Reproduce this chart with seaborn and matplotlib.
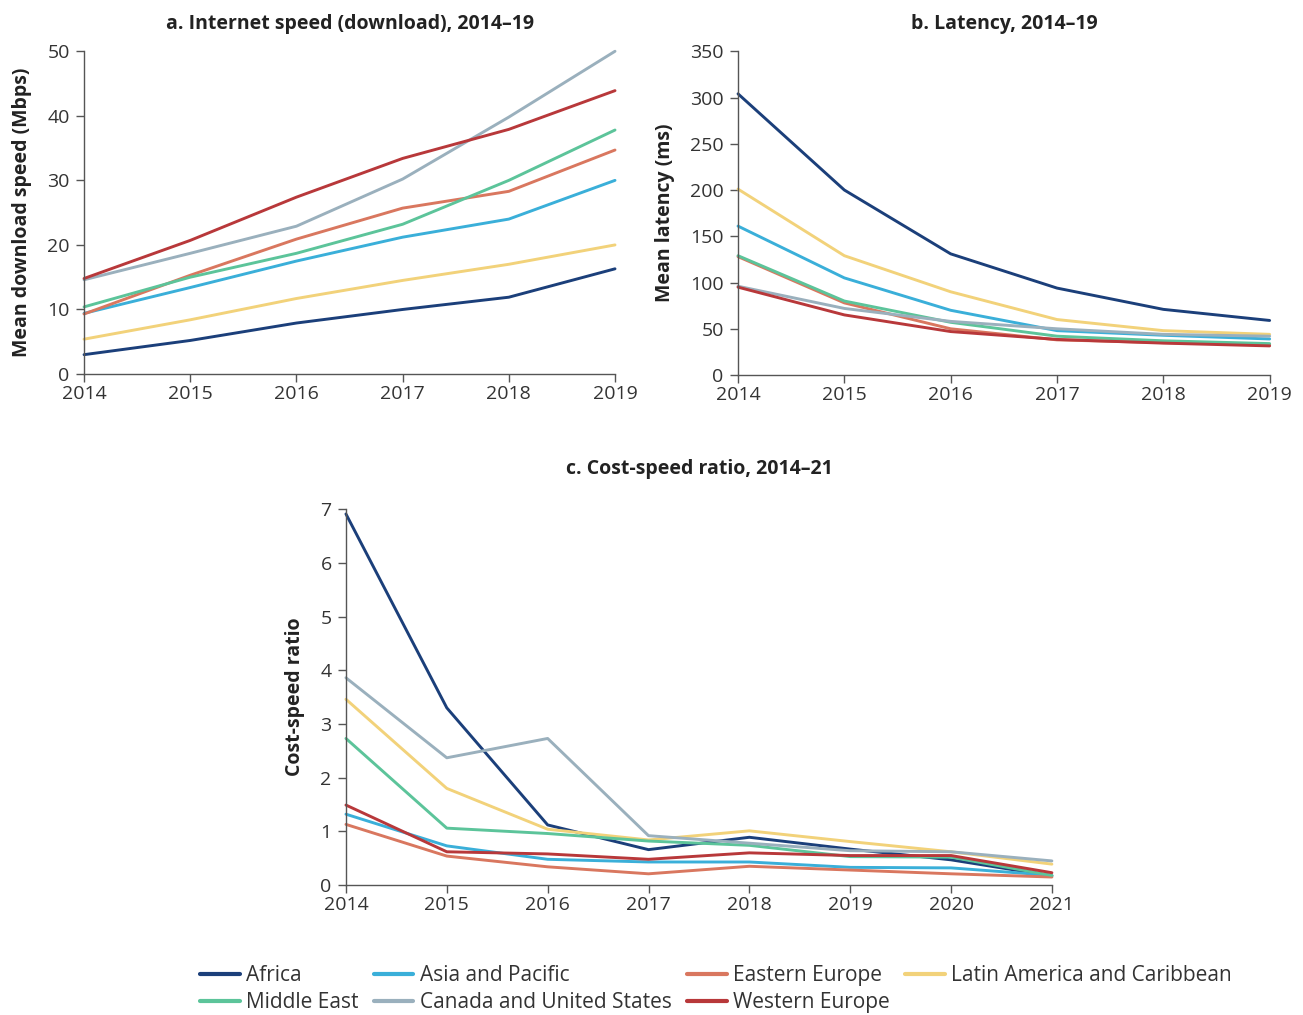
import matplotlib
matplotlib.use("Agg")
import matplotlib.pyplot as plt
import seaborn as sns
import pandas as pd

regions = ["Africa", "Asia and Pacific", "Eastern Europe", "Latin America and Caribbean",
           "Middle East", "Canada and United States", "Western Europe"]
colors = ["#1b3f7a", "#3aafd9", "#d9775f", "#f2d27a", "#5cc49a", "#9ab0bd", "#b8383a"]

years_ab = [2014, 2015, 2016, 2017, 2018, 2019]
years_c = [2014, 2015, 2016, 2017, 2018, 2019, 2020, 2021]

speed_africa = [3.0, 5.2, 7.9, 10.0, 11.9, 16.3]
speed_asia = [9.4, 13.4, 17.5, 21.2, 24.0, 30.0]
speed_eeurope = [9.3, 15.3, 20.9, 25.7, 28.3, 34.7]
speed_latam = [5.4, 8.4, 11.7, 14.5, 17.0, 20.0]
speed_mideast = [10.4, 15.0, 18.7, 23.2, 30.0, 37.8]
speed_canus = [14.6, 18.7, 22.9, 30.2, 39.8, 50.0]
speed_weurope = [14.8, 20.7, 27.4, 33.4, 37.9, 43.9]

lat_africa = [304, 200, 131, 94, 71, 59]
lat_asia = [161, 105, 70, 48, 43, 39]
lat_eeurope = [128, 78, 50, 38, 35, 33]
lat_latam = [201, 129, 90, 60, 48, 44]
lat_mideast = [129, 80, 57, 42, 37, 34]
lat_canus = [96, 72, 58, 50, 44, 42]
lat_weurope = [95, 65, 47, 38.5, 34.5, 31.5]

cost_africa = [6.91, 3.30, 1.12, 0.66, 0.89, 0.67, 0.47, 0.17]
cost_asia = [1.32, 0.73, 0.48, 0.43, 0.43, 0.33, 0.32, 0.18]
cost_eeurope = [1.13, 0.54, 0.34, 0.21, 0.35, 0.28, 0.21, 0.15]
cost_latam = [3.46, 1.80, 1.04, 0.84, 1.01, 0.81, 0.62, 0.39]
cost_mideast = [2.73, 1.06, 0.96, 0.82, 0.74, 0.53, 0.52, 0.18]
cost_canus = [3.86, 2.37, 2.73, 0.92, 0.78, 0.64, 0.62, 0.45]
cost_weurope = [1.49, 0.62, 0.58, 0.48, 0.60, 0.55, 0.55, 0.23]

speed = [speed_africa, speed_asia, speed_eeurope, speed_latam, speed_mideast, speed_canus, speed_weurope]
lat = [lat_africa, lat_asia, lat_eeurope, lat_latam, lat_mideast, lat_canus, lat_weurope]
cost = [cost_africa, cost_asia, cost_eeurope, cost_latam, cost_mideast, cost_canus, cost_weurope]


def long_df(years, series):
    rows = []
    for r, vals in zip(regions, series):
        for y, v in zip(years, vals):
            rows.append({"Year": y, "Region": r, "Value": v})
    return pd.DataFrame(rows)


sns.set_theme(style="white")
plt.rcParams['font.family'] = ['Open Sans', 'DejaVu Sans']
palette = dict(zip(regions, colors))

fig = plt.figure(figsize=(13.03, 10.15), dpi=100)
ax_a = fig.add_axes([0.0645, 0.6315, 0.4075, 0.318])
ax_b = fig.add_axes([0.5664, 0.6305, 0.408, 0.319])
ax_c = fig.add_axes([0.2655, 0.128, 0.5418, 0.3704])

spine_col = "#555555"
tick_col = "#333333"


def style(ax, years, ylim, yticks, ylabel, title, tpad):
    ax.set_xlim(years[0], years[-1])
    ax.set_ylim(*ylim)
    ax.set_xticks(years)
    ax.set_xticklabels([str(y) for y in years])
    ax.set_yticks(yticks)
    for s in ["top", "right"]:
        ax.spines[s].set_visible(False)
    for s in ["left", "bottom"]:
        ax.spines[s].set_color(spine_col)
        ax.spines[s].set_linewidth(1.0)
    ax.tick_params(axis="both", which="major", direction="out", length=5.8, width=1.0,
                   color=spine_col, labelsize=14, labelcolor=tick_col, pad=4.5,
                   bottom=True, left=True)
    ax.tick_params(axis="x", pad=2)
    ax.set_xlabel("")
    ax.set_ylabel(ylabel, fontsize=14, fontweight="bold", color="#222222", labelpad=11)
    ax.set_title(title, fontsize=14, fontweight="bold", color="#222222", pad=tpad)


sns.lineplot(data=long_df(years_ab, speed), x="Year", y="Value", hue="Region",
             palette=palette, hue_order=regions, linewidth=2.1, ax=ax_a, legend=False)
sns.lineplot(data=long_df(years_ab, lat), x="Year", y="Value", hue="Region",
             palette=palette, hue_order=regions, linewidth=2.1, ax=ax_b, legend=False)
sns.lineplot(data=long_df(years_c, cost), x="Year", y="Value", hue="Region",
             palette=palette, hue_order=regions, linewidth=2.1, ax=ax_c, legend=True)

style(ax_a, years_ab, (0, 50), range(0, 51, 10), "Mean download speed (Mbps)",
      "a. Internet speed (download), 2014–19", 16)
style(ax_b, years_ab, (0, 350), range(0, 351, 50), "Mean latency (ms)",
      "b. Latency, 2014–19", 16)
style(ax_c, years_c, (0, 7), range(0, 8), "Cost-speed ratio",
      "c. Cost-speed ratio, 2014–21", 25.5)

for ax in (ax_a, ax_b, ax_c):
    for ln in ax.lines:
        ln.set_clip_on(False)

handles, labels = ax_c.get_legend_handles_labels()
ax_c.get_legend().remove()
hmap = dict(zip(labels, handles))
order = ["Africa", "Middle East", "Asia and Pacific", "Canada and United States",
         "Eastern Europe", "Western Europe", "Latin America and Caribbean"]
leg = fig.legend([hmap[o] for o in order], order, ncol=4, loc="upper center",
                 bbox_to_anchor=(0.5495, 1 - 955 / 1015), frameon=False, fontsize=15,
                 handlelength=1.9, handletextpad=0.3, columnspacing=0.75,
                 labelspacing=0.28, borderpad=0.0)
for t in leg.get_texts():
    t.set_color(tick_col)
for h in leg.legend_handles:
    h.set_linewidth(3)

fig.savefig("out.png", dpi=100)
